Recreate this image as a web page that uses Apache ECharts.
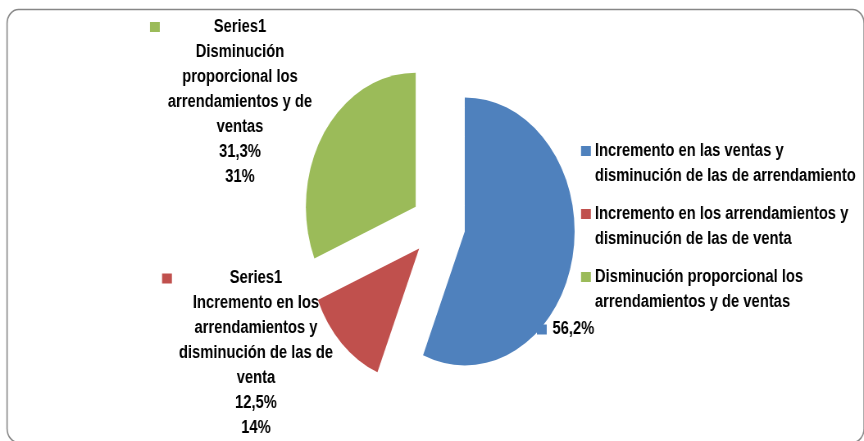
<!DOCTYPE html>
<html>
<head>
<meta charset="utf-8">
<script src="https://cdn.jsdelivr.net/npm/echarts@6/dist/echarts.min.js"></script>
<style>
  html, body { margin: 0; padding: 0; background: #fff; overflow: hidden; }
  /* the original chart is squeezed horizontally, so the whole chart is drawn wide and scaled */
  #main { width: 1054px; height: 441px; transform: scaleX(0.8197); transform-origin: 0 0; }
</style>
</head>
<body>
<div id="main"></div>
<script>
var seriesName = 'Series1';
var categories = [
	'Incremento en las ventas y disminución de las de arrendamiento',
	'Incremento en los arrendamientos y disminución de las de venta',
	'Disminución proporcional los arrendamientos y de ventas'
];
var values = [56.2, 12.5, 31.3];
// second percentage printed under the red and green labels
var roundedPct = ['', '14%', '31%'];
// line breaks as they appear in the picture
var legendLines = [
	['Incremento en las ventas y', 'disminución de las de arrendamiento'],
	['Incremento en los arrendamientos y', 'disminución de las de venta'],
	['Disminución proporcional los', 'arrendamientos y de ventas']
];
var labelLines = [
	[],
	['Incremento en los', 'arrendamientos y', 'disminución de las de', 'venta'],
	['Disminución', 'proporcional los', 'arrendamientos y de', 'ventas']
];

(function () {
	var SX = 864 / 1054;
	var myChart = echarts.init(document.getElementById('main'));
	var colors = ['#4f81bd', '#c0504d', '#9bbb59'];
	var FONT = 'Liberation Sans';
	// pie centre, radius and how far every slice is pulled out
	var CX = 534.6, CY = 225, R = 134, EXPLODE = 33;

	// where each data label sits (unscaled px)
	var labelBox = [
		{ x: 655, y: 329.5, align: 'left' },
		{ x: 312.2, y: 353.5, w: 229 },
		{ x: 292.7, y: 102, w: 219.5 }
	];

	function fmtPct(v) {
		return v.toFixed(1).replace('.', ',') + '%';
	}

	function txt(extra) {
		var s = { fontFamily: FONT, fontWeight: 'bold', fontSize: 18, color: '#000', lineHeight: 25 };
		for (var k in extra) s[k] = extra[k];
		return s;
	}

	function labelFor(i) {
		if (i === 0) {
			return {
				show: true,
				formatter: '{sq|}{g|}{t|' + fmtPct(values[i]) + '}',
				rich: {
					sq: { width: 12, height: 10, backgroundColor: colors[i] },
					g: { width: 7 },
					t: txt({})
				}
			};
		}
		var rows = ['{sq|}{s|' + seriesName + '}{e|}'];
		labelLines[i].forEach(function (l) { rows.push('{t|' + l + '}'); });
		rows.push('{t|' + fmtPct(values[i]) + '}');
		rows.push('{t|' + roundedPct[i] + '}');
		return {
			show: true,
			formatter: rows.join('\n'),
			align: 'center',
			rich: {
				sq: { width: 12, height: 10, backgroundColor: colors[i], align: 'left' },
				s: txt({ width: labelBox[i].w - 24, align: 'center' }),
				e: { width: 12 },
				t: txt({ align: 'center' })
			}
		};
	}

	// exploded pie: one pie per slice, each shifted along its own bisector
	var total = values.reduce(function (a, b) { return a + b; }, 0);
	var startDeg = 0;
	var series = values.map(function (v, i) {
		var mid = (startDeg + v / total * 180) * Math.PI / 180;
		startDeg += v / total * 360;
		return {
			name: seriesName,
			type: 'pie',
			center: [CX + EXPLODE * Math.sin(mid), CY - EXPLODE * Math.cos(mid)],
			radius: R,
			startAngle: 90,
			clockwise: true,
			silent: true,
			avoidLabelOverlap: false,
			emphasis: { disabled: true },
			label: txt({ show: false, position: 'outside' }),
			labelLine: { show: false },
			labelLayout: function (params) {
				var b = labelBox[params.dataIndex];
				return { x: b.x, y: b.y, align: b.align || 'center', verticalAlign: 'middle' };
			},
			data: categories.map(function (n, j) {
				return {
					name: n,
					value: values[j],
					itemStyle: j === i ? { color: colors[j] } : { color: colors[j], opacity: 0 },
					label: j === i ? labelFor(j) : { show: false }
				};
			})
		};
	});

	var option = {
		color: colors,
		animation: false,
		// chart area border
		graphic: [{
			type: 'rect',
			left: 5 / SX,
			top: 7,
			silent: true,
			shape: { width: 857 / SX, height: 433, r: 14 },
			style: { fill: 'none', stroke: '#878787', lineWidth: 1.6 }
		}],
		legend: {
			orient: 'vertical',
			left: 708.8,
			top: 113.5,
			padding: 0,
			itemWidth: 12,
			itemHeight: 10,
			itemGap: -12,
			icon: 'rect',
			selectedMode: false,
			data: categories.map(function (n, i) {
				return { name: n, itemStyle: { color: colors[i], opacity: 1 } };
			}),
			// an empty first line keeps the square beside the first text line
			formatter: function (name) {
				return '\n' + legendLines[categories.indexOf(name)].join('\n');
			},
			textStyle: txt({})
		},
		series: series
	};
	myChart.setOption(option);
	window.addEventListener('resize', function () {
		myChart.resize();
	});
})();
</script>
</body>
</html>
